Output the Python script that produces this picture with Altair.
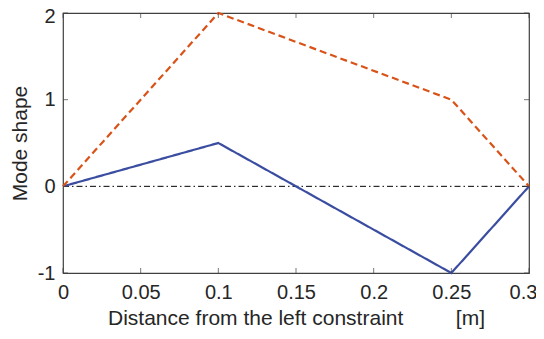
import altair as alt
import pandas as pd

x_pos = [0, 0.1, 0.25, 0.3]
mode1 = [0, 0.5, -1, 0]
mode2 = [0, 2, 1, 0]
x_ticks = [0, 0.05, 0.1, 0.15, 0.2, 0.25, 0.3]
y_ticks = [-1, 0, 1, 2]

df = pd.DataFrame({
    "x": x_pos * 2,
    "y": mode1 + mode2,
    "mode": ["1"] * 4 + ["2"] * 4,
})

FONT = "Liberation Sans"
TXT = "#262626"

xs = alt.Scale(domain=[0, 0.3], nice=False, zero=False)
ys = alt.Scale(domain=[-1, 2], nice=False, zero=False)

SP = "\u00a0" * 9
xaxis = alt.Axis(values=x_ticks, labelExpr="'' + datum.value", labelPadding=9,
                 labelOffset=alt.condition("datum.value >= 0.29", alt.value(-6), alt.value(0)),
                 title="Distance from the left constraint" + SP + "[m]", titlePadding=5)
yaxis = alt.Axis(values=y_ticks, labelExpr="'' + datum.value", labelPadding=8,
                 labelOffset=alt.condition("datum.value >= 2", alt.value(3), alt.value(0)),
                 title="Mode shape", titlePadding=7)

zero = alt.Chart(pd.DataFrame({"x": [0, 0.3], "y": [0, 0]})).mark_line(
    color="black", strokeWidth=1, strokeDash=[6, 3, 1.5, 3]
).encode(x=alt.X("x:Q", scale=xs, axis=xaxis), y=alt.Y("y:Q", scale=ys, axis=yaxis))

lines = alt.Chart(df).mark_line(strokeWidth=2.2).encode(
    x=alt.X("x:Q", scale=xs, axis=xaxis),
    y=alt.Y("y:Q", scale=ys, axis=yaxis),
    color=alt.Color("mode:N", scale=alt.Scale(domain=["1", "2"], range=["#3A4DA0", "#D95319"]), legend=None),
    strokeDash=alt.StrokeDash("mode:N", scale=alt.Scale(domain=["1", "2"], range=[[1, 0], [7, 4]]), legend=None),
)

TC = "#404040"
bt = alt.Chart(pd.DataFrame({"x": x_ticks})).mark_tick(orient="vertical", size=5, thickness=1, color=TC, yOffset=-2.5).encode(
    x=alt.X("x:Q", scale=xs, axis=xaxis), y=alt.datum(-1, scale=ys))
tt = alt.Chart(pd.DataFrame({"x": x_ticks})).mark_tick(orient="vertical", size=5, thickness=1, color=TC, yOffset=2.5).encode(
    x=alt.X("x:Q", scale=xs, axis=xaxis), y=alt.datum(2, scale=ys))
lt = alt.Chart(pd.DataFrame({"y": y_ticks})).mark_tick(orient="horizontal", size=5, thickness=1, color=TC, xOffset=2.5).encode(
    y=alt.Y("y:Q", scale=ys, axis=yaxis), x=alt.datum(0, scale=xs))
rt = alt.Chart(pd.DataFrame({"y": y_ticks})).mark_tick(orient="horizontal", size=5, thickness=1, color=TC, xOffset=-2.5).encode(
    y=alt.Y("y:Q", scale=ys, axis=yaxis), x=alt.datum(0.3, scale=xs))

chart = alt.layer(zero, lines, bt, tt, lt, rt).properties(
    width=466, height=260,
    autosize=alt.AutoSizeParams(type="none"),
    padding={"left": 55, "top": 5, "right": 7, "bottom": 58},
    background="white",
).configure_view(stroke=TC, strokeWidth=1.2).configure_axis(
    ticks=False, domain=False, grid=False,
    labelFontSize=20, labelColor=TXT, labelFont=FONT, labelFlush=False,
    titleFont=FONT, titleFontSize=21, titleFontWeight="normal", titleColor=TXT,
)

chart.save("out.html", embed_options={"renderer": "svg", "actions": False})
